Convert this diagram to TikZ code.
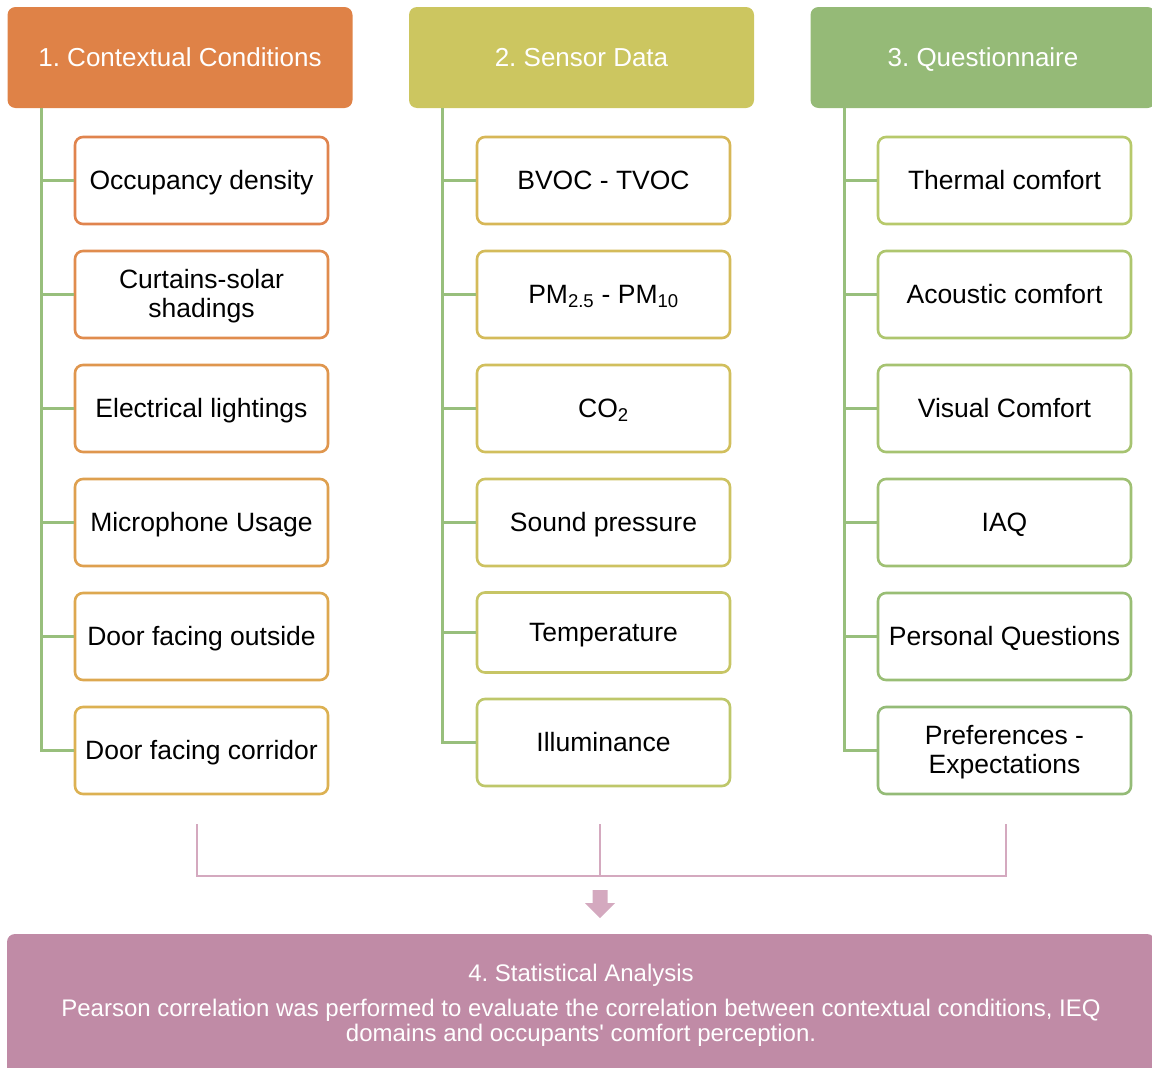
\documentclass[tikz,border=0pt]{standalone}
\usepackage{fontspec}
\setmainfont{Liberation Sans}
\newfontfamily\plainsans{Liberation Sans}[Ligatures=TeXOff]
\definecolor{hOrange}{HTML}{DF8247}
\definecolor{hYellow}{HTML}{CCC660}
\definecolor{hGreen}{HTML}{95BA77}
\definecolor{hPink}{HTML}{C08BA6}
\definecolor{treeGreen}{HTML}{98BF7C}
\definecolor{lnPink}{HTML}{D4A9BF}
\definecolor{bA1}{HTML}{E0844E}
\definecolor{bA2}{HTML}{E08C4E}
\definecolor{bA3}{HTML}{DF964E}
\definecolor{bA4}{HTML}{DEA04F}
\definecolor{bA5}{HTML}{DDA850}
\definecolor{bA6}{HTML}{DCB152}
\definecolor{bB1}{HTML}{D7B757}
\definecolor{bB2}{HTML}{D4BB5A}
\definecolor{bB3}{HTML}{D1BF5D}
\definecolor{bB4}{HTML}{CDC261}
\definecolor{bB5}{HTML}{C7C565}
\definecolor{bB6}{HTML}{BEC76A}
\definecolor{bC1}{HTML}{B7C96B}
\definecolor{bC2}{HTML}{AEC66E}
\definecolor{bC3}{HTML}{A6C371}
\definecolor{bC4}{HTML}{9FC073}
\definecolor{bC5}{HTML}{99BE75}
\definecolor{bC6}{HTML}{94BB77}
\tikzset{
  header/.style={rounded corners=8pt, minimum width=345pt, minimum height=101pt,
    text=white, font=\fontsize{26}{30}\selectfont, inner sep=0pt,
    text height=19pt, text depth=1pt},
  item/.style={draw=#1, line width=2.6pt, rounded corners=8pt, fill=white,
    minimum width=253pt, minimum height=87pt, align=center,
    font=\fontsize{26.5}{29}\selectfont, inner sep=0pt},
  one/.style={text height=19pt, text depth=1pt},
  twoline/.style={align=center, font=\fontsize{26.5}{29}\selectfont, inner sep=0pt},
  tree/.style={draw=treeGreen, line width=3pt},
  pinkline/.style={draw=lnPink, line width=2.2pt},
}
\begin{document}
\frenchspacing
\begin{tikzpicture}[x=1pt,y=-1pt]
\useasboundingbox (0,0) rectangle (1152,1068);
\clip (0,0) rectangle (1152,1068);
% headers
\node[header, fill=hOrange] (h1) at (180,57.5) {1. Contextual Conditions};
\node[header, fill=hYellow] (h2) at (581.5,57.5) {2. Sensor Data};
\node[header, fill=hGreen] (h3) at (983,57.5) {3. Questionnaire};
% column 1
\node[item=bA1, one] (a1) at (201.5,180.5) {Occupancy density};
\node[item=bA2] (a2) at (201.5,294.5) {};
\node[twoline] (a2t) at (201.5,296.5) {Curtains-solar\\shadings};
\node[item=bA3, one] (a3) at (201.5,408.5) {Electrical lightings};
\node[item=bA4, one] (a4) at (201.5,522.5) {Microphone Usage};
\node[item=bA5, one] (a5) at (201.5,636.5) {Door facing outside};
\node[item=bA6, one] (a6) at (201.5,750.5) {Door facing corridor};
% column 2
\node[item=bB1, one] (b1) at (603.5,180.5) {BVOC - TVOC};
\node[item=bB2, one] (b2) at (603.5,294.5) {PM\textsubscript{2.5} - PM\textsubscript{10}};
\node[item=bB3, one] (b3) at (603.5,408.5) {CO\textsubscript{2}};
\node[item=bB4, one] (b4) at (603.5,522.5) {Sound pressure};
\node[item=bB5, one, minimum height=80pt] (b5) at (603.5,632.5) {Temperature};
\node[item=bB6, one] (b6) at (603.5,742.5) {Illuminance};
% column 3
\node[item=bC1, one] (c1) at (1004.5,180.5) {Thermal comfort};
\node[item=bC2, one] (c2) at (1004.5,294.5) {Acoustic comfort};
\node[item=bC3, one] (c3) at (1004.5,408.5) {Visual Comfort};
\node[item=bC4, one] (c4) at (1004.5,522.5) {IAQ};
\node[item=bC5, one] (c5) at (1004.5,636.5) {Personal Questions};
\node[item=bC6] (c6) at (1004.5,750.5) {};
\node[twoline] (c6t) at (1004.5,752.5) {Preferences -\\Expectations};
% tree lines
\coordinate (ta) at (41,108);
\coordinate (tb) at (442,108);
\coordinate (tc) at (844,108);
\draw[tree] (ta) |- (a6.west);
\foreach \n in {a1,a2,a3,a4,a5} \draw[tree] (ta |- \n.west) -- (\n.west);
\draw[tree] (tb) |- (b6.west);
\foreach \n in {b1,b2,b3,b4,b5} \draw[tree] (tb |- \n.west) -- (\n.west);
\draw[tree] (tc) |- (c6.west);
\foreach \n in {c1,c2,c3,c4,c5} \draw[tree] (tc |- \n.west) -- (\n.west);
% merge lines
\coordinate (m1) at (197,824);
\coordinate (m2) at (600,824);
\coordinate (m3) at (1006,824);
\coordinate (mb) at (600,876);
\draw[pinkline] (m1) |- (mb) -| (m3);
\draw[pinkline] (m2) -- (mb);
% block arrow
\coordinate (arr) at (600,890);
\fill[lnPink] (arr) ++(-7.5,0) -- ++(15,0) -- ++(0,13) -- ++(7.5,0) -- (600,918)
  -- (585,903) -- ++(7.5,0) -- cycle;
% bottom box
\node[rounded corners=8pt, fill=hPink, minimum width=1148pt, minimum height=145pt,
  inner sep=0pt] (sa) at (581,1006.5) {};
\node[text=white, align=center, font=\plainsans\fontsize{24}{25}\selectfont, inner sep=0pt]
  (sat) at (581,1005) {4. Statistical Analysis\\[10pt]
  Pearson correlation was performed to evaluate the correlation between contextual conditions, IEQ\\
  domains and occupants' comfort perception.};
\end{tikzpicture}
\end{document}
